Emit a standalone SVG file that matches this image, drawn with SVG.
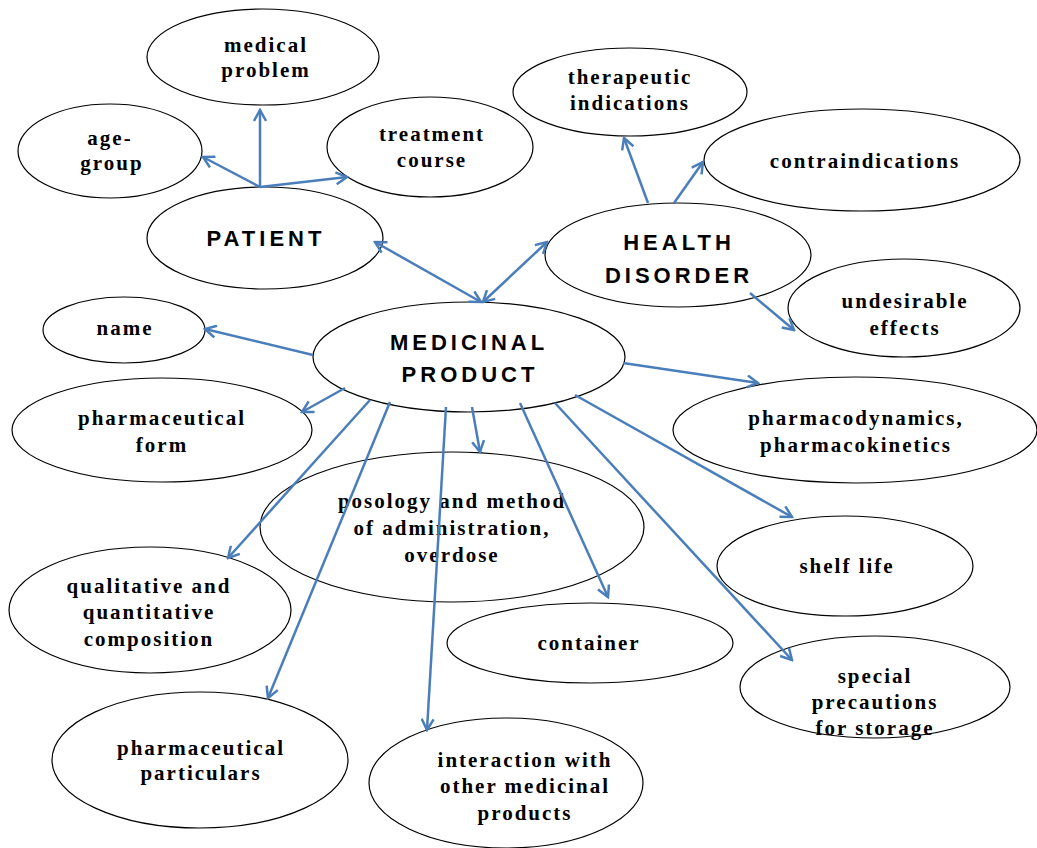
<svg xmlns="http://www.w3.org/2000/svg" width="1037" height="848" viewBox="0 0 1037 848">
<style>
.n ellipse{fill:#fff;stroke:#000;stroke-width:1.2}
.t{font-family:"Liberation Serif","Times New Roman",serif;font-weight:bold;font-size:21px;letter-spacing:2px;text-anchor:middle;fill:#000}
.b{font-family:"Liberation Sans",Arial,sans-serif;font-weight:bold;font-size:22px;letter-spacing:4px;text-anchor:middle;fill:#000}
.c line{stroke:#4a7ebb;stroke-width:2.5;fill:none;marker-end:url(#ah)}
.c line.d{marker-start:url(#ah)}
</style>
<defs>
<marker id="ah" viewBox="0 0 14 14" refX="12" refY="7" markerWidth="14" markerHeight="14" markerUnits="userSpaceOnUse" orient="auto-start-reverse">
<path d="M1,1 L12,7 L1,13" fill="none" stroke="#4a7ebb" stroke-width="2.5"/>
</marker>
</defs>
<rect width="1037" height="848" fill="#fff"/>
<g id="medical-problem" class="n"><ellipse cx="263" cy="57" rx="116" ry="48"/><text class="t" x="266" y="52">medical</text><text class="t" x="266" y="77">problem</text></g>
<g id="age-group" class="n"><ellipse cx="110" cy="151" rx="92" ry="47"/><text class="t" x="110" y="145">age-</text><text class="t" x="112" y="170">group</text></g>
<g id="treatment-course" class="n"><ellipse cx="430" cy="147" rx="103" ry="50"/><text class="t" x="432" y="141">treatment</text><text class="t" x="432" y="167">course</text></g>
<g id="patient" class="n"><ellipse cx="265" cy="238" rx="118" ry="51"/><text class="b" x="266" y="246">PATIENT</text></g>
<g id="therapeutic-indications" class="n"><ellipse cx="630" cy="92" rx="117" ry="44"/><text class="t" x="630" y="84">therapeutic</text><text class="t" x="630" y="110">indications</text></g>
<g id="contraindications" class="n"><ellipse cx="862" cy="160" rx="158" ry="51"/><text class="t" x="865" y="168">contraindications</text></g>
<g id="health-disorder" class="n"><ellipse cx="678" cy="255" rx="133" ry="52"/><text class="b" x="679" y="250">HEALTH</text><text class="b" x="679" y="283">DISORDER</text></g>
<g id="undesirable-effects" class="n"><ellipse cx="904" cy="308" rx="116" ry="49"/><text class="t" x="905" y="308">undesirable</text><text class="t" x="905" y="335">effects</text></g>
<g id="medicinal-product" class="n"><ellipse cx="469" cy="357" rx="156" ry="55"/><text class="b" x="469" y="350">MEDICINAL</text><text class="b" x="470" y="382">PRODUCT</text></g>
<g id="name" class="n"><ellipse cx="124" cy="330" rx="81" ry="33"/><text class="t" x="125" y="335">name</text></g>
<g id="pharmaceutical-form" class="n"><ellipse cx="162" cy="430" rx="150" ry="52"/><text class="t" x="162" y="425">pharmaceutical</text><text class="t" x="162" y="452">form</text></g>
<g id="pharmacodynamics" class="n"><ellipse cx="855" cy="430" rx="182" ry="53"/><text class="t" x="856" y="425">pharmacodynamics,</text><text class="t" x="856" y="452">pharmacokinetics</text></g>
<g id="posology" class="n"><ellipse cx="452" cy="527" rx="192" ry="75"/><text class="t" x="452" y="508">posology and method</text><text class="t" x="452" y="535">of administration,</text><text class="t" x="452" y="562">overdose</text></g>
<g id="shelf-life" class="n"><ellipse cx="845" cy="566" rx="128" ry="50"/><text class="t" x="847" y="573">shelf life</text></g>
<g id="qualitative" class="n"><ellipse cx="150" cy="610" rx="141" ry="63"/><text class="t" x="149" y="593">qualitative and</text><text class="t" x="149" y="619">quantitative</text><text class="t" x="149" y="646">composition</text></g>
<g id="container" class="n"><ellipse cx="590" cy="643" rx="143" ry="40"/><text class="t" x="589" y="650">container</text></g>
<g id="special-precautions" class="n"><ellipse cx="875" cy="687" rx="135" ry="51"/><text class="t" x="875" y="683">special</text><text class="t" x="875" y="709">precautions</text><text class="t" x="875" y="735">for storage</text></g>
<g id="pharmaceutical-particulars" class="n"><ellipse cx="200" cy="760" rx="148" ry="68"/><text class="t" x="201" y="755">pharmaceutical</text><text class="t" x="201" y="780">particulars</text></g>
<g id="interaction" class="n"><ellipse cx="506" cy="783" rx="137" ry="65"/><text class="t" x="525" y="767">interaction with</text><text class="t" x="525" y="793">other medicinal</text><text class="t" x="525" y="820">products</text></g>
<g id="connectors" class="c">
<line x1="260" y1="187" x2="260" y2="110"/>
<line x1="260" y1="187" x2="203" y2="157"/>
<line x1="260" y1="187" x2="347" y2="177"/>
<line class="d" x1="375" y1="242" x2="481" y2="302"/>
<line class="d" x1="483" y1="302" x2="547" y2="242"/>
<line x1="648" y1="203" x2="624" y2="138"/>
<line x1="674" y1="203" x2="703" y2="162"/>
<line x1="750" y1="293" x2="794" y2="330"/>
<line x1="313" y1="355" x2="205" y2="329"/>
<line x1="345" y1="388" x2="302" y2="412"/>
<line x1="370" y1="400" x2="228" y2="558"/>
<line x1="390" y1="402" x2="268" y2="698"/>
<line x1="446" y1="407" x2="427" y2="730"/>
<line x1="472" y1="407" x2="480" y2="452"/>
<line x1="520" y1="403" x2="608" y2="597"/>
<line x1="555" y1="403" x2="792" y2="660"/>
<line x1="575" y1="395" x2="792" y2="517"/>
<line x1="623" y1="363" x2="758" y2="383"/>
</g>
</svg>
